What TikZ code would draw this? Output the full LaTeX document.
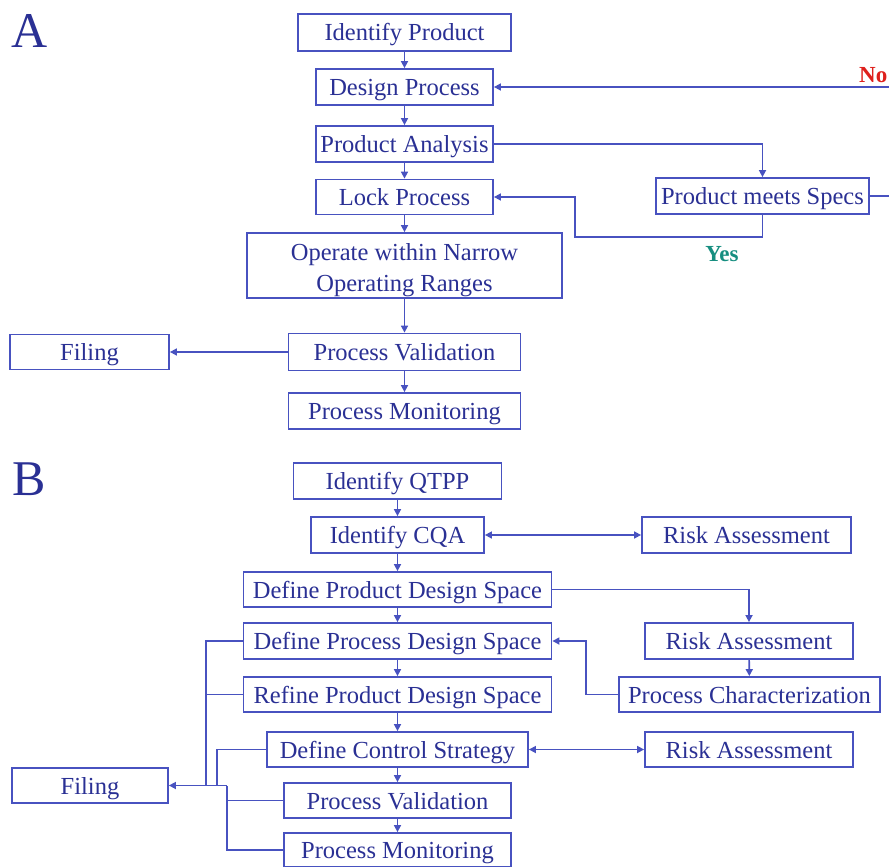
\documentclass[tikz,border=0pt]{standalone}
\usepackage{fontspec}
\setmainfont{Liberation Serif}
\usetikzlibrary{arrows.meta}
\definecolor{linec}{RGB}{72,82,192}
\definecolor{textc}{RGB}{42,48,148}
\definecolor{noc}{RGB}{222,32,28}
\definecolor{yesc}{RGB}{22,142,128}
\tikzset{
  box/.style={draw=linec, line width=1.8pt, text=textc, inner sep=0pt,
    text height=17.5pt, text depth=0.5pt,
    font=\fontsize{24.5}{31}\selectfont, align=center},
  twoline/.style={text height=51pt, text depth=0pt},
  conn/.style={draw=linec, line width=1.6pt},
  arr/.style={conn, -{Triangle[length=7pt,width=7pt]}},
  darr/.style={conn, {Triangle[length=7pt,width=7pt]}-{Triangle[length=7pt,width=7pt]}},
  biglabel/.style={text=textc, inner sep=0pt, font=\fontsize{50}{50}\selectfont},
  flag/.style={inner sep=0pt, font=\bfseries\fontsize{23}{26}\selectfont}
}
\begin{document}
\begin{tikzpicture}[x=1pt,y=-1pt]
\useasboundingbox (0,0) rectangle (889,867);
\clip (0,0) rectangle (889,867);
% ---------- Part A ----------
\node[biglabel, anchor=base west] (la) at (11,48) {A};
\node[box, minimum width=213, minimum height=37] (ip) at (404.5,32.5) {Identify Product};
\node[box, minimum width=177, minimum height=36] (dp) at (404.5,87) {Design Process};
\node[box, minimum width=177, minimum height=36] (pa) at (404.5,144) {Product Analysis};
\node[box, minimum width=177, minimum height=35] (lp) at (404.5,197) {Lock Process};
\node[box, twoline, minimum width=315, minimum height=65] (op) at (404.5,265.5) {Operate within Narrow\\Operating Ranges};
\node[box, minimum width=232, minimum height=37] (pv) at (404.5,352) {Process Validation};
\node[box, minimum width=232, minimum height=36] (pm) at (404.5,411) {Process Monitoring};
\node[box, minimum width=159, minimum height=35] (fil) at (89.5,352) {Filing};
\node[box, minimum width=213, minimum height=36] (pms) at (762.5,196) {Product meets Specs};
\node[flag, text=yesc, anchor=base] (yes) at (722,261) {Yes};
\node[flag, text=noc, anchor=base west] (no) at (859,82) {No};
\coordinate (y1) at (575,237);
\coordinate (ny) at (900,87);
\draw[arr] (ip) -- (dp);
\draw[arr] (dp) -- (pa);
\draw[arr] (pa) -- (lp);
\draw[arr] (lp) -- (op);
\draw[arr] (op) -- (pv);
\draw[arr] (pv) -- (pm);
\draw[arr] (pv) -- (fil);
\draw[arr] (pa.east) -| (pms.north);
\draw[arr] (pms.south) |- (y1) |- (lp.east);
\draw[arr] (pms.east) -| (ny) -- (dp.east);
% ---------- Part B ----------
\node[biglabel, anchor=base west] (lb) at (12,495) {B};
\node[box, minimum width=208, minimum height=36] (qtpp) at (397.5,481) {Identify QTPP};
\node[box, minimum width=173, minimum height=36] (cqa) at (397.5,535) {Identify CQA};
\node[box, minimum width=209, minimum height=36] (ra1) at (746.5,535) {Risk Assessment};
\node[box, minimum width=308, minimum height=35] (dpds) at (397.5,589.5) {Define Product Design Space};
\node[box, minimum width=208, minimum height=36] (ra2) at (749,641) {Risk Assessment};
\node[box, minimum width=261, minimum height=35] (pc) at (749.5,694.5) {Process Characterization};
\node[box, minimum width=308, minimum height=36] (dprs) at (397.5,641) {Define Process Design Space};
\node[box, minimum width=308, minimum height=35] (rpds) at (397.5,694.5) {Refine Product Design Space};
\node[box, minimum width=261, minimum height=35] (dcs) at (397.5,749.5) {Define Control Strategy};
\node[box, minimum width=208, minimum height=35] (ra3) at (749,749.5) {Risk Assessment};
\node[box, minimum width=227, minimum height=35] (pvb) at (397.5,800.5) {Process Validation};
\node[box, minimum width=227, minimum height=34] (pmb) at (397.5,850) {Process Monitoring};
\node[box, minimum width=156, minimum height=35] (filb) at (90,785.5) {Filing};
\coordinate (pcx) at (586,667);
\coordinate (j1) at (206,785.5);
\coordinate (j2) at (217,785.5);
\coordinate (j3) at (227,785.5);
\draw[arr] (qtpp) -- (cqa);
\draw[darr] (cqa) -- (ra1);
\draw[arr] (cqa) -- (dpds);
\draw[arr] (dpds) -- (dprs);
\draw[arr] (dprs) -- (rpds);
\draw[arr] (rpds) -- (dcs);
\draw[arr] (dcs) -- (pvb);
\draw[arr] (pvb) -- (pmb);
\draw[darr] (dcs) -- (ra3);
\draw[arr] (dpds.east) -| (ra2.north);
\draw[arr] (ra2) -- (pc);
\draw[arr] (pc.west) -| (pcx) |- (dprs.east);
\draw[conn] (dprs.west) -| (j1);
\draw[conn] (rpds.west) -| (j1);
\draw[conn] (dcs.west) -| (j2);
\draw[conn] (pvb.west) -| (j3);
\draw[conn] (pmb.west) -| (j3);
\draw[arr] (j3) -- (filb.east);
\end{tikzpicture}
\end{document}
